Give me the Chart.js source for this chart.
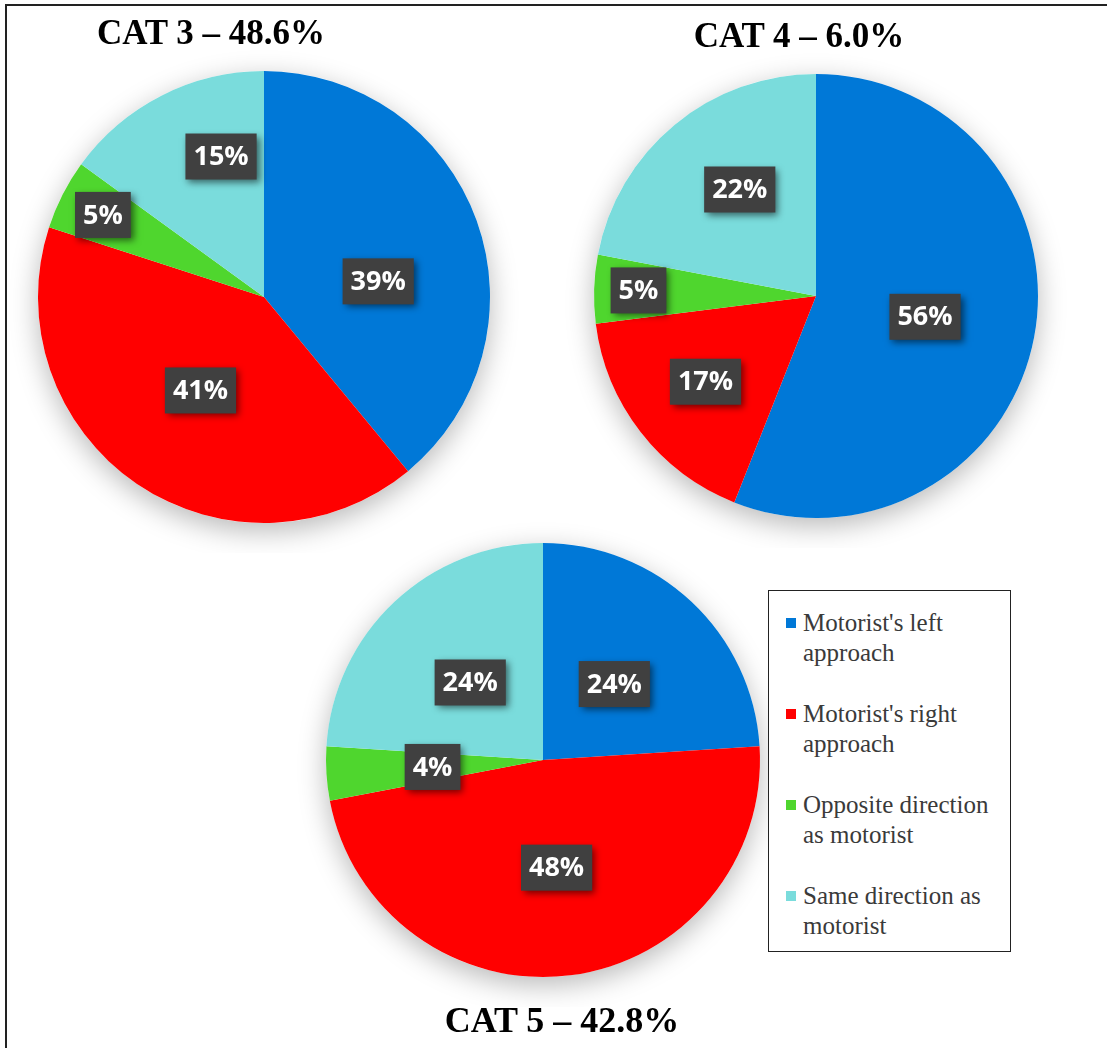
<!DOCTYPE html>
<html>
<head>
<meta charset="utf-8">
<script src="https://cdn.jsdelivr.net/npm/chart.js@4.4.1/dist/chart.umd.min.js"></script>
<style>
body { margin: 0; background: #fff; }
#page { position: relative; width: 1107px; height: 1048px; overflow: hidden; background: #fff; }
#frame { position: absolute; left: 5px; top: 4px; width: 1200px; height: 1200px; border: 2px solid #222; box-sizing: border-box; }
canvas { position: absolute; }
.title { position: absolute; width: 320px; text-align: center; font: bold 35px "Liberation Serif", "Times New Roman", serif; line-height: 35px; color: #000; z-index: 5; white-space: nowrap; }
#legend { position: absolute; left: 768px; top: 590px; width: 243px; height: 362px; border: 1px solid #222; background: #fff; box-sizing: border-box; z-index: 5; padding: 17px 0 0 17px; }
.item { display: flex; margin-bottom: 31px; font: 25px "Liberation Serif", "Times New Roman", serif; line-height: 30px; color: #3a3a3a; }
.sw { width: 10px; height: 10px; margin-top: 10px; margin-right: 7px; flex: none; }
.txt { width: 205px; }
</style>
</head>
<body>
<div id="page">
  <div id="frame"></div>
  <canvas id="cat3" width="512" height="512" style="left:8px;top:41px"></canvas>
  <canvas id="cat4" width="504" height="504" style="left:564px;top:44px"></canvas>
  <canvas id="cat5" width="494" height="494" style="left:296px;top:513px"></canvas>
  <div class="title" id="t3" style="left:51px;top:15px"></div>
  <div class="title" id="t4" style="left:639px;top:18px"></div>
  <div class="title" id="t5" style="left:402px;top:1002px;font-size:36px;line-height:36px"></div>
  <div id="legend"></div>
</div>
<script>
// slice order: clockwise from 12 o'clock
const categories = ["Motorist's left approach", "Motorist's right approach", "Opposite direction as motorist", "Same direction as motorist"];
const colors = ['#0078D7', '#FF0000', '#4FD62E', '#7ADCDC'];

const titles = ['CAT 3 \u2013 48.6%', 'CAT 4 \u2013 6.0%', 'CAT 5 \u2013 42.8%'];
const cat3 = [39, 41, 5, 15];
const cat4 = [56, 17, 5, 22];
const cat5 = [24, 48, 4, 24];

document.getElementById('t3').textContent = titles[0];
document.getElementById('t4').textContent = titles[1];
document.getElementById('t5').textContent = titles[2];

// legend built from the category list
const legend = document.getElementById('legend');
categories.forEach(function (c, i) {
  const it = document.createElement('div');
  it.className = 'item';
  it.innerHTML = '<div class="sw" style="background:' + colors[i] + '"></div><div class="txt"></div>';
  it.querySelector('.txt').textContent = c;
  legend.appendChild(it);
});

// soft shadow under the whole pie
const pieShadow = {
  id: 'pieShadow',
  beforeDatasetsDraw(chart) {
    const a = chart.getDatasetMeta(0).data[0];
    if (!a) return;
    const ctx = chart.ctx;
    ctx.save();
    ctx.shadowColor = 'rgba(0,0,0,0.28)';
    ctx.shadowBlur = 28;
    ctx.shadowOffsetY = 8;
    ctx.beginPath();
    ctx.arc(a.x, a.y, a.outerRadius, 0, Math.PI * 2);
    ctx.fillStyle = '#fff';
    ctx.fill();
    ctx.restore();
  }
};

// dark boxed percentage labels
const boxLabels = {
  id: 'boxLabels',
  afterDatasetsDraw(chart, args, opts) {
    const ctx = chart.ctx;
    const meta = chart.getDatasetMeta(0);
    const vals = chart.data.datasets[0].data;
    ctx.save();
    ctx.font = 'bold 27px "Open Sans", sans-serif';
    ctx.textAlign = 'center';
    ctx.textBaseline = 'middle';
    meta.data.forEach(function (arc, i) {
      const p = arc.getProps(['x', 'y', 'startAngle', 'endAngle', 'outerRadius'], true);
      const mid = (p.startAngle + p.endAngle) / 2 + (opts.turn[i] || 0) * Math.PI / 180;
      const d = p.outerRadius * opts.dist[i];
      const x = p.x + Math.cos(mid) * d;
      const y = p.y + Math.sin(mid) * d;
      const txt = vals[i] + '%';
      const w = ctx.measureText(txt).width + 16;
      const h = 46;
      ctx.save();
      ctx.shadowColor = 'rgba(0,0,0,0.55)';
      ctx.shadowBlur = 7;
      ctx.shadowOffsetX = 3;
      ctx.shadowOffsetY = 3;
      ctx.fillStyle = '#404040';
      ctx.fillRect(x - w / 2, y - h / 2, w, h);
      ctx.restore();
      ctx.fillStyle = '#fff';
      ctx.fillText(txt, x, y + 1);
    });
    ctx.restore();
  }
};

function makePie(id, values, dist, turn) {
  return new Chart(document.getElementById(id).getContext('2d'), {
    type: 'pie',
    data: {
      labels: categories,
      datasets: [{
        data: values,
        backgroundColor: colors,
        borderWidth: 0
      }]
    },
    options: {
      responsive: false,
      animation: false,
      devicePixelRatio: 1,
      layout: { padding: 30 },
      plugins: {
        legend: { display: false },
        tooltip: { enabled: false },
        boxLabels: { dist: dist, turn: turn }
      }
    },
    plugins: [pieShadow, boxLabels]
  });
}

makePie('cat3', cat3, [0.51, 0.5, 0.8, 0.65], [12, 0, 0, 10]);
makePie('cat4', cat4, [0.5, 0.63, 0.8, 0.59], [0, 0, 0, 4]);
makePie('cat5', cat5, [0.48, 0.5, 0.51, 0.49], [0, 0, 0, 0]);
</script>
</body>
</html>
